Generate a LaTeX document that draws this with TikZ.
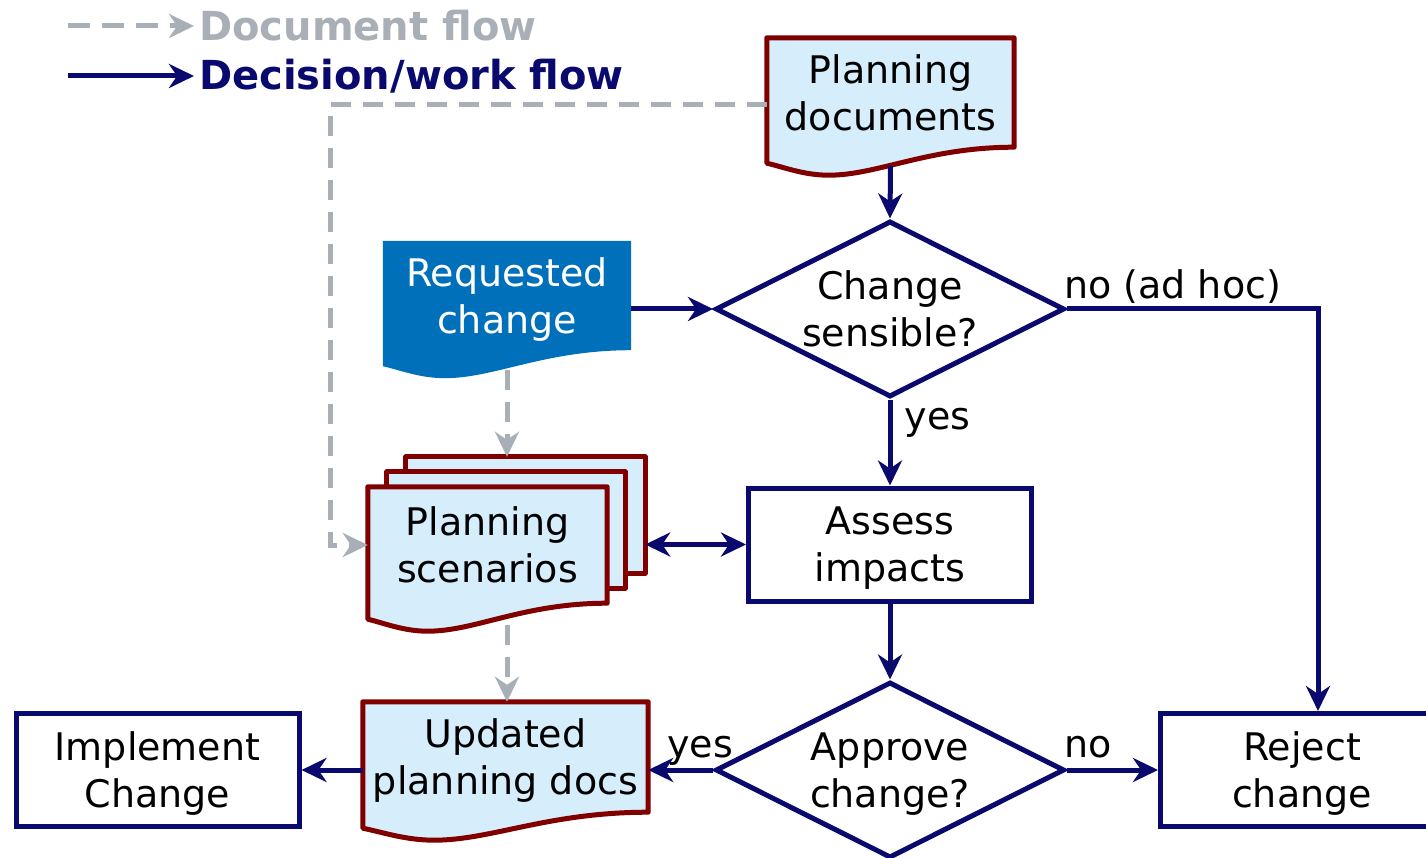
\documentclass[tikz,border=0pt]{standalone}
\usepackage{fontspec}
\setmainfont{DejaVu Sans}
\usetikzlibrary{shapes.geometric,arrows.meta,calc,backgrounds}

\definecolor{navy}{RGB}{10,10,110}
\definecolor{docgray}{RGB}{169,175,182}
\definecolor{docred}{RGB}{128,0,0}
\definecolor{docfill}{RGB}{214,237,252}
\definecolor{reqblue}{RGB}{0,112,186}

% paper with a wavy lower edge, drawn round a node
\newcommand{\wavydoc}[2]{%
  \path [#2] let \p1=(#1.south west), \p2=(#1.south east), \n1={\x2-\x1} in
    (#1.north west) -- (#1.north east) -- (#1.south east)
    .. controls (\x1+0.65*\n1,\y1) and (\x1+0.45*\n1,\y1-28pt) .. (\x1+0.25*\n1,\y1-28pt)
    .. controls (\x1+0.15*\n1,\y1-28pt) and (\x1+0.07*\n1,\y1-20pt) .. (\x1,\y1-16pt) -- cycle;%
}

\begin{document}
\begin{tikzpicture}[x=1pt, y=-1pt,
    font={\fontsize{38}{47}\selectfont},
    >={Stealth[length=25pt,width=24pt,inset=8pt]},
    work/.style={draw=navy, line width=5pt, ->},
    docflow/.style={draw=docgray, line width=5pt, dash pattern=on 20pt off 12pt, ->},
    box/.style={draw=navy, line width=5pt, fill=white, minimum width=283pt, minimum height=113pt, inner sep=0pt, align=center, text depth=0pt},
    decision/.style={diamond, aspect=2, draw=navy, line width=5pt, fill=white, minimum width=349pt, minimum height=176pt, inner sep=0pt, align=center, text depth=0pt},
    doc/.style={inner sep=0pt, align=center, text depth=0pt},
    docline/.style={draw=docred, fill=docfill, line width=5pt, line join=round},
    lbl/.style={inner sep=0pt},
    legend/.style={font={\fontsize{40}{48}\selectfont\bfseries}, inner sep=5pt, anchor=west},
  ]
  \useasboundingbox (0,0) rectangle (1426,858);

  % legend
  \coordinate (lgs1) at (68,26);
  \coordinate (lgs2) at (68,76);
  \node (lgdoc) [legend, text=docgray] at (194,26) {Document flow};
  \node (lgwork) [legend, text=navy] at (194,76) {Decision/work flow};
  \draw [docflow, dash pattern=on 22pt off 12pt] (lgs1) -- (lgdoc.west);
  \draw [work] (lgs2) -- (lgwork.west);

  % documents
  \node (pdoc) [doc, minimum width=247pt, minimum height=109pt] at (890.5,92.5) {Planning\\documents};
  \node (reqc) [doc, text=white, minimum width=248pt, minimum height=109pt] at (507,295.5) {Requested\\change};
  \node (scen3) [doc, minimum width=239pt, minimum height=116pt] at (525.5,515) {};
  \node (scen2) [doc, minimum width=238pt, minimum height=116pt] at (506,530) {};
  \node (scen) [doc, minimum width=239pt, minimum height=116pt] at (487.5,545) {Planning\\scenarios};
  \node (upd) [doc, minimum width=285pt, minimum height=110pt] at (505.5,757) {Updated\\planning docs};

  \begin{scope}[on background layer]
    \wavydoc{pdoc}{docline}
    \wavydoc{reqc}{fill=reqblue}
    \draw [docline] (scen3.north west) rectangle (scen3.south east);
    \draw [docline] (scen2.north west) rectangle (scen2.south east);
    \wavydoc{scen}{docline}
    \wavydoc{upd}{docline}
  \end{scope}

  % steps
  \node (cs) [decision] at (890,309) {Change\\sensible?};
  \node (assess) [box] at (890,544.5) {Assess\\impacts};
  \node (ap) [decision] at (890,770) {Approve\\change?};
  \node (rej) [box] at (1302,770) {Reject\\change};
  \node (impl) [box] at (157.5,770) {Implement\\Change};

  \coordinate (pdoc-w) at ([yshift=-12pt]pdoc.west);
  \coordinate (pdoc-b) at ([yshift=-19pt]pdoc.south);
  \coordinate (reqc-b) at ([yshift=-20pt]reqc.south);
  \coordinate (scen-b) at (507,625);
  \coordinate (dturn) at (330,0);

  % document flow
  \draw [docflow] (pdoc-w) -- (pdoc-w -| dturn) |- (scen.west);
  \draw [docflow] (reqc-b) -- (reqc-b |- scen3.north);
  \draw [docflow] (scen-b) -- (scen-b |- upd.north);

  % decision/work flow
  \draw [work] (pdoc-b) -- (cs.north);
  \draw [work] (reqc.east |- cs.west) -- (cs.west);
  \draw [work] (cs.east) -| ([xshift=16pt]rej.north);
  \node (no1) [lbl, anchor=base west] at ([xshift=-3pt,yshift=10pt]cs.east) {no (ad hoc)};
  \draw [work] (cs.south) -- node (yes1) [lbl, anchor=west, pos=0.27, xshift=12pt] {yes} (assess.north);
  \draw [work, <->] (scen3.east |- assess.west) -- (assess.west);
  \draw [work] (assess.south) -- (ap.north);
  \draw [work] (ap.west) -- (ap.west -| upd.east);
  \draw [work] (ap.east) -- (rej.west);
  \draw [work] (upd.west |- impl.east) -- (impl.east);
  \node (yes2) [lbl, anchor=base east] at ([xshift=20pt,yshift=13pt]ap.west) {yes};
  \node (no2) [lbl, anchor=base west] at ([xshift=-3pt,yshift=13pt]ap.east) {no};
\end{tikzpicture}
\end{document}
